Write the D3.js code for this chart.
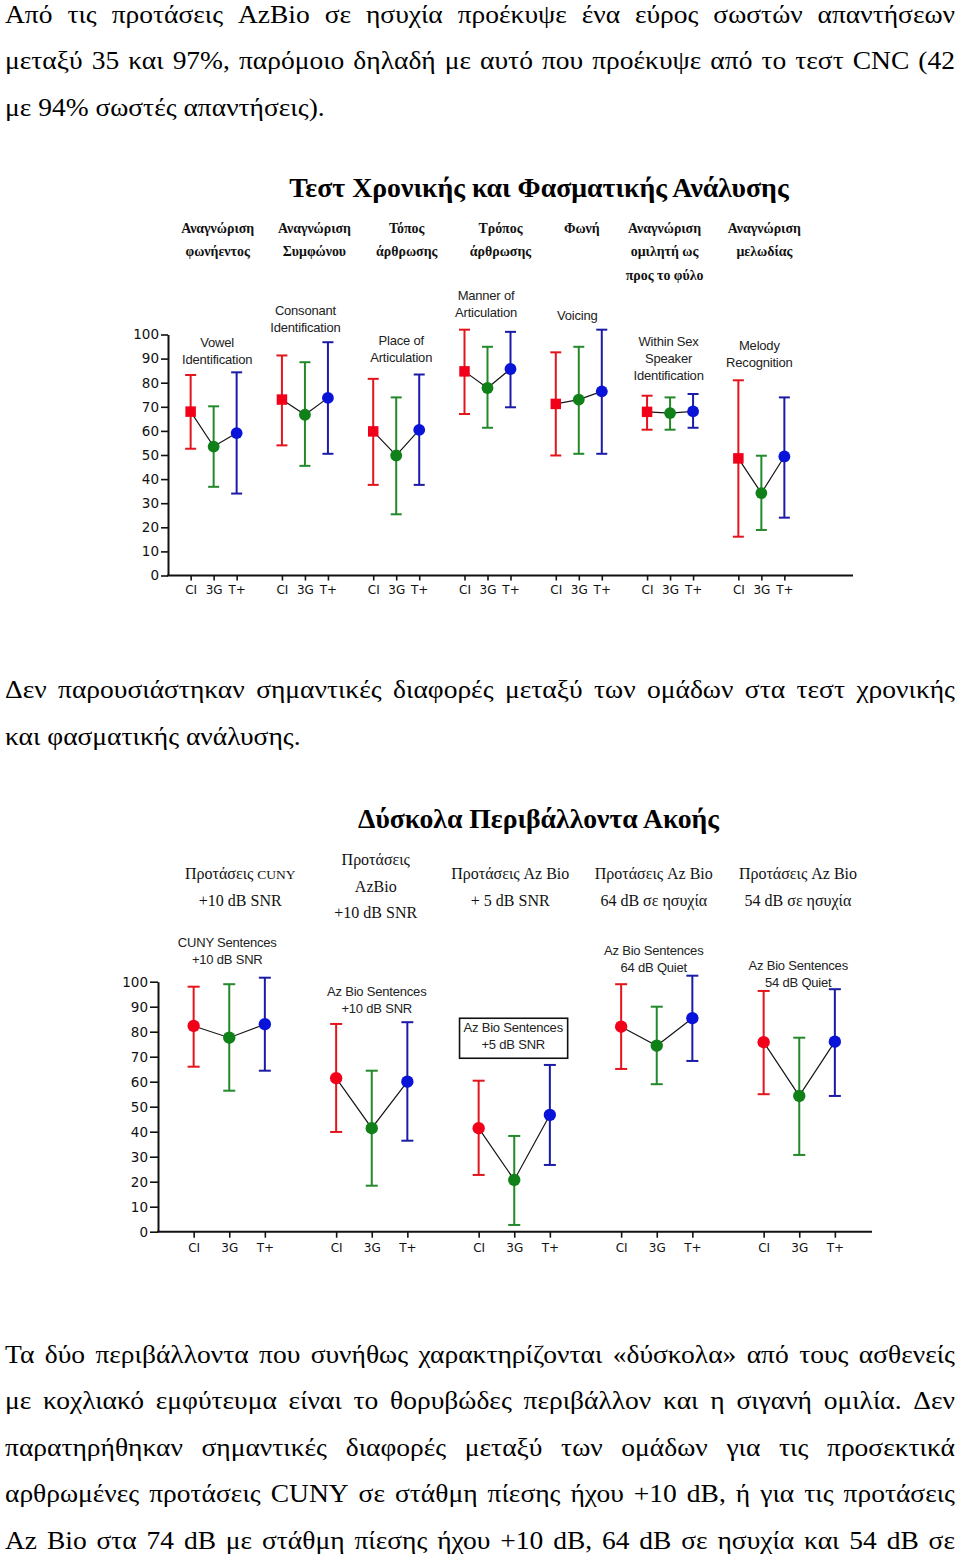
<!DOCTYPE html>
<html><head><meta charset="utf-8">
<script src="https://cdn.jsdelivr.net/npm/d3@7"></script>
<style>html,body{margin:0;padding:0;background:#fff}svg{display:block}</style>
</head><body><svg id="c" width="960" height="1563"></svg>
<script>
// ---------------- DATA ----------------
const para1 = [
  "Από τις προτάσεις AzBio σε ησυχία προέκυψε ένα εύρος σωστών απαντήσεων",
  "μεταξύ 35 και 97%, παρόμοιο δηλαδή με αυτό που προέκυψε από το τεστ CNC (42",
  "με 94% σωστές απαντήσεις)."
];
const para2 = [
  "Δεν παρουσιάστηκαν σημαντικές διαφορές μεταξύ των ομάδων στα τεστ χρονικής",
  "και φασματικής ανάλυσης."
];
const para3 = [
  "Τα δύο περιβάλλοντα που συνήθως χαρακτηρίζονται «δύσκολα» από τους ασθενείς",
  "με κοχλιακό εμφύτευμα είναι το θορυβώδες περιβάλλον και η σιγανή ομιλία. Δεν",
  "παρατηρήθηκαν σημαντικές διαφορές μεταξύ των ομάδων για τις προσεκτικά",
  "αρθρωμένες προτάσεις CUNY σε στάθμη πίεσης ήχου +10 dB, ή για τις προτάσεις",
  "Az Bio στα 74 dB με στάθμη πίεσης ήχου +10 dB, 64 dB σε ησυχία και 54 dB σε"
];

const seriesKeys = ["CI", "3G", "T+"];
const yTicks = [0, 10, 20, 30, 40, 50, 60, 70, 80, 90, 100];

// Top chart
const topTitle = "Τεστ Χρονικής και Φασματικής Ανάλυσης";
const topGroups = ["Vowel", "Consonant", "Place", "Manner", "Voicing", "WithinSex", "Melody"];
const topGreek = [["Αναγνώριση","φωνήεντος"],["Αναγνώριση","Συμφώνου"],["Τόπος","άρθρωσης"],["Τρόπος","άρθρωσης"],["Φωνή"],["Αναγνώριση","ομιλητή ως","προς το φύλο"],["Αναγνώριση","μελωδίας"]];
const topEnglish = [["Vowel","Identification"],["Consonant","Identification"],["Place of","Articulation"],["Manner of","Articulation"],["Voicing"],["Within Sex","Speaker","Identification"],["Melody","Recognition"]];
const topCI   = [68.0, 73.0, 59.8, 84.7, 71.2, 67.9, 48.6];
const topCIhi = [83.2, 91.3, 81.6, 102.0, 92.6, 74.6, 81.0];
const topCIlo = [52.6, 54.0, 37.6, 67.0, 49.8, 60.5, 16.1];
const top3G   = [53.5, 66.7, 49.8, 77.8, 73.0, 67.4, 34.2];
const top3Ghi = [70.2, 88.5, 73.9, 94.9, 94.9, 73.9, 49.7];
const top3Glo = [36.8, 45.5, 25.4, 61.3, 50.5, 60.5, 18.9];
const topTP   = [59.1, 73.7, 60.4, 85.7, 76.4, 68.1, 49.4];
const topTPhi = [84.3, 96.8, 83.4, 101.1, 102.0, 75.3, 73.9];
const topTPlo = [34.0, 50.5, 37.6, 69.8, 50.5, 61.3, 24.0];

// Bottom chart
const botTitle = "Δύσκολα Περιβάλλοντα Ακοής";
const botGroups = ["CUNY10", "AzBio10", "AzBio5", "AzBio64", "AzBio54"];
const botGreek = [["Προτάσεις |CUNY","+10 dB SNR"],["Προτάσεις","AzBio","+10 dB SNR"],["Προτάσεις Az Bio","+ 5 dB SNR"],["Προτάσεις Az Bio","64 dB σε ησυχία"],["Προτάσεις Az Bio","54 dB σε ησυχία"]];
const botEnglish = [["CUNY Sentences","+10 dB SNR"],["Az Bio Sentences","+10 dB SNR"],["Az Bio Sentences","+5 dB SNR"],["Az Bio Sentences","64 dB Quiet"],["Az Bio Sentences","54 dB Quiet"]];
const botCI   = [82.3, 61.4, 41.4, 82.0, 75.8];
const botCIhi = [98.0, 83.1, 60.4, 99.0, 96.3];
const botCIlo = [66.0, 39.9, 22.7, 65.1, 55.0];
const bot3G   = [77.6, 41.4, 20.7, 74.4, 54.3];
const bot3Ghi = [99.0, 64.4, 38.3, 90.0, 77.6];
const bot3Glo = [56.4, 18.4, 2.7, 59.0, 30.7];
const botTP   = [83.0, 60.0, 46.7, 85.4, 76.0];
const botTPhi = [101.6, 83.8, 66.7, 102.4, 97.0];
const botTPlo = [64.4, 36.4, 26.7, 68.3, 54.3];

// ---------------- LAYOUT / STYLE ----------------
const svg = d3.select("#c");
svg.append("rect").attr("width", 960).attr("height", 1563).attr("fill", "#fff");

const SERIF = "'Liberation Serif','Times New Roman','DejaVu Serif',serif";
const SANS = "'Liberation Sans',Arial,sans-serif";
const TICKF = "'DejaVu Sans',sans-serif";
const colors = {
  "CI": {line: "#e3141b", mark: "#f2001a"},
  "3G": {line: "#23892b", mark: "#108018"},
  "T+": {line: "#1b1ba6", mark: "#0a14d8"}
};

const BODY_SIZE = 25, BODY_SX = 1.1;
function paragraph(lines, baselines, lastJustified) {
  const x0 = 5, x1 = 955;
  const g = svg.append("g").attr("transform", `translate(${x0},0) scale(${BODY_SX},1)`);
  const W = (x1 - x0) / BODY_SX;
  lines.forEach((ln, i) => {
    const justify = (i < lines.length - 1) || lastJustified;
    const y = baselines[i];
    if (!justify) {
      g.append("text").attr("x", 0).attr("y", y)
        .attr("font-family", SERIF).attr("font-size", BODY_SIZE).attr("fill", "#000").text(ln);
      return;
    }
    const words = ln.split(" ");
    const nodes = words.map(w => g.append("text").attr("y", y)
      .attr("font-family", SERIF).attr("font-size", BODY_SIZE).attr("fill", "#000").text(w));
    const widths = nodes.map(n => n.node().getComputedTextLength());
    const total = d3.sum(widths);
    const gap = (W - total) / (words.length - 1);
    let x = 0;
    nodes.forEach((n, k) => { n.attr("x", x); x += widths[k] + gap; });
  });
}

paragraph(para1, [22.7, 69.2, 115.7], false);
paragraph(para2, [698, 745], false);
paragraph(para3, [1363, 1409.5, 1456, 1502.5, 1549], true);

function drawChart(cfg) {
  const g = svg.append("g");
  const x = d3.scaleBand().domain(cfg.groups).range(cfg.xRange).padding(0);
  const inner = d3.scalePoint().domain(seriesKeys).range([-cfg.inner, cfg.inner]);
  const y = d3.scaleLinear().domain([0, 100]).range(cfg.yRange);
  const cx = (gi, s) => x(cfg.groups[gi]) + x.bandwidth() / 2 + inner(s);

  // title
  g.append("text").attr("x", cfg.titleX).attr("y", cfg.titleY).attr("text-anchor", "middle")
    .attr("font-family", SERIF).attr("font-weight", "bold").attr("font-size", cfg.titleSize).text(cfg.title);

  // y axis
  const ya = g.append("g").attr("transform", `translate(${cfg.xRange[0]},0)`)
    .call(d3.axisLeft(y).tickValues(yTicks).tickSize(cfg.yTickSize).tickSizeOuter(0).tickPadding(2));
  ya.select(".domain").attr("stroke", "#111").attr("stroke-width", 2);
  ya.selectAll(".tick line").attr("stroke", "#111").attr("stroke-width", 1.6);
  ya.selectAll("text").attr("font-family", TICKF).attr("font-size", 13.5).attr("fill", "#111");

  // x axis line
  g.append("line").attr("x1", cfg.xRange[0] - 1).attr("x2", cfg.axisEnd)
    .attr("y1", y(0)).attr("y2", y(0)).attr("stroke", "#111").attr("stroke-width", 2);

  cfg.groups.forEach((grp, gi) => {
    const c = x(grp) + x.bandwidth() / 2;
    const pts = d3.scalePoint().domain(seriesKeys).range([c - cfg.inner, c + cfg.inner]);
    const xa = g.append("g").attr("transform", `translate(0,${y(0)})`)
      .call(d3.axisBottom(pts).tickSize(cfg.xTickSize).tickSizeOuter(0).tickPadding(cfg.xTickPad));
    xa.select(".domain").remove();
    xa.selectAll(".tick line").attr("stroke", "#111").attr("stroke-width", 1.6);
    xa.selectAll("text").attr("font-family", TICKF).attr("font-size", 12).attr("fill", "#111");

    // mean connector
    const line = d3.line().x(d => cx(gi, d.k)).y(d => y(d.v));
    const meanPts = cfg.series.map(s => ({k: s.key, v: s.mean[gi]}));
    g.append("path").attr("d", line(meanPts)).attr("fill", "none")
      .attr("stroke", "#151515").attr("stroke-width", 1.2);

    // error bars + markers
    cfg.series.forEach(s => {
      const px = cx(gi, s.key);
      const col = colors[s.key];
      g.append("line").attr("x1", px).attr("x2", px).attr("y1", y(s.lo[gi])).attr("y2", y(s.hi[gi]))
        .attr("stroke", col.line).attr("stroke-width", 2);
      [s.lo[gi], s.hi[gi]].forEach(v => {
        g.append("line").attr("x1", px - cfg.cap).attr("x2", px + cfg.cap).attr("y1", y(v)).attr("y2", y(v))
          .attr("stroke", col.line).attr("stroke-width", 2);
      });
      const shape = cfg.shapes[s.key] === "square" ? d3.symbolSquare : d3.symbolCircle;
      g.append("path").attr("d", d3.symbol().type(shape).size(cfg.markSize)())
        .attr("transform", `translate(${px},${y(s.mean[gi])})`).attr("fill", col.mark);
    });

    // greek label
    const gl = cfg.greek[gi];
    gl.forEach((t, li) => {
      const ty = (cfg.greekY[gi] !== undefined ? cfg.greekY[gi] : cfg.greekY0) + li * cfg.greekLH;
      const te = g.append("text").attr("x", c + cfg.greekDx[gi]).attr("y", ty).attr("text-anchor", "middle")
        .attr("font-family", SERIF).attr("font-size", cfg.greekSize).attr("font-weight", cfg.greekWeight).attr("fill", "#111");
      const parts = t.split("|");
      te.append("tspan").text(parts[0]);
      if (parts[1]) te.append("tspan").attr("font-size", cfg.greekSize - 2.5).text(parts[1]);
    });

    // english label (placed above the highest whisker)
    const el = cfg.english[gi];
    const top = d3.max(cfg.series, s => s.hi[gi]);
    const lastY = y(top) - cfg.engGap[gi];
    const eg = g.append("g");
    el.forEach((t, li) => {
      eg.append("text").attr("x", c + cfg.engDx[gi]).attr("y", lastY - (el.length - 1 - li) * cfg.engLH)
        .attr("text-anchor", "middle").attr("font-family", SANS).attr("font-size", 13)
        .attr("letter-spacing", "-0.2").attr("fill", "#222").text(t);
    });
    if (cfg.boxed && cfg.boxed[gi]) {
      const bb = eg.node().getBBox();
      eg.insert("rect", ":first-child").attr("x", bb.x - 4).attr("y", bb.y - 2)
        .attr("width", bb.width + 8).attr("height", bb.height + 8)
        .attr("fill", "#fff").attr("stroke", "#111").attr("stroke-width", 1.6);
    }
  });
}

drawChart({
  title: topTitle, titleX: 539, titleY: 197, titleSize: 27.8,
  groups: topGroups, xRange: [168, 807], axisEnd: 853, inner: 23,
  yRange: [575.5, 334.5], yTickSize: 7, xTickSize: 5, xTickPad: 5, cap: 5.5, markSize: 110,
  shapes: {"CI": "square", "3G": "circle", "T+": "circle"},
  series: [
    {key: "CI", mean: topCI, hi: topCIhi, lo: topCIlo},
    {key: "3G", mean: top3G, hi: top3Ghi, lo: top3Glo},
    {key: "T+", mean: topTP, hi: topTPhi, lo: topTPlo}
  ],
  greek: topGreek, greekY0: 233, greekY: [], greekLH: 23.3, greekSize: 13.9, greekWeight: "bold",
  greekDx: [4, 9.5, 10.5, 13, 3, -5.5, 3],
  english: topEnglish, engDx: [3.5, 0.5, 5, -1.5, -1.5, -1.5, -2], engGap: [8, 10, 12.8, 13, 9.7, 14, 13], engLH: 17
});

drawChart({
  title: botTitle, titleX: 538.5, titleY: 827.5, titleSize: 27.7,
  groups: botGroups, xRange: [158, 870.5], axisEnd: 872, inner: 35.6,
  yRange: [1231.7, 981.7], yTickSize: 8, xTickSize: 6, xTickPad: 5.5, cap: 6, markSize: 120,
  shapes: {"CI": "circle", "3G": "circle", "T+": "circle"},
  series: [
    {key: "CI", mean: botCI, hi: botCIhi, lo: botCIlo},
    {key: "3G", mean: bot3G, hi: bot3Ghi, lo: bot3Glo},
    {key: "T+", mean: botTP, hi: botTPhi, lo: botTPlo}
  ],
  greek: botGreek, greekY0: 879, greekY: [879, 865, 879, 879, 879], greekLH: 26.7, greekSize: 16, greekWeight: "normal",
  greekDx: [11, 4, -4, -3, -1.3],
  english: botEnglish, engDx: [-2, 5, -1, -3, -1], engGap: [13.4, 9, 15.7, 4, 2.5], engLH: 17,
  boxed: [false, false, true, false, false]
});
</script>
</body></html>
